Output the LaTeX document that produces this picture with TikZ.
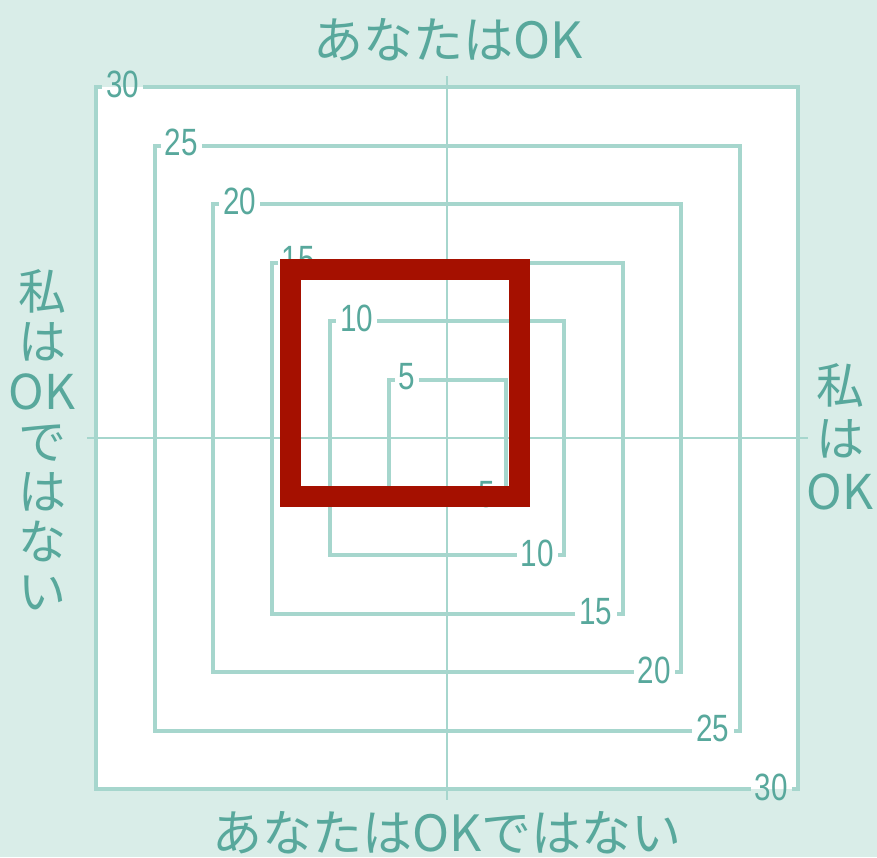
\documentclass[tikz,border=0pt]{standalone}
\usepackage{fontspec}
\newfontfamily\numfont[FakeStretch=0.78]{Liberation Sans}
\newfontfamily\jpfont{Noto Sans CJK JP}
\definecolor{bgc}{RGB}{217,237,232}
\definecolor{linec}{RGB}{166,214,205}
\definecolor{textc}{RGB}{88,168,156}
\definecolor{redc}{RGB}{165,16,0}
\begin{document}
\begin{tikzpicture}[x=1pt,y=-1pt,
  sq/.style={draw=linec,line width=4pt},
  axisline/.style={draw=linec,line width=2pt},
  lab/.style={text=textc,font=\numfont\fontsize{38}{38}\selectfont,inner xsep=4pt,inner ysep=0pt},
  jp/.style={text=textc,inner sep=0pt},
  redsq/.style={draw=redc,line width=21pt}]
\fill[bgc] (0,0) rectangle (877,857);
\useasboundingbox (0,0) rectangle (877,857);
\coordinate (C) at (447,438);
\fill[white] (96,87) rectangle (798,789);
% axes
\coordinate (axT) at (447,76);
\coordinate (axB) at (447,800);
\coordinate (axL) at (87,438);
\coordinate (axR) at (808,438);
\draw[axisline] (axT) -- (axB);
\draw[axisline] (axL) -- (axR);
% squares
\foreach \n in {5,10,15,20,25,30} {
  \pgfmathsetmacro\s{11.7*\n}
  \path (C) ++(-\s,-\s) coordinate (TL\n);
  \path (C) ++(\s,-\s) coordinate (TR\n);
  \path (C) ++(\s,\s) coordinate (BR\n);
  \path (C) ++(-\s,\s) coordinate (BL\n);
  \node[lab,anchor=west] (tl\n) at ([xshift=6pt,yshift=3pt]TL\n) {\n};
  \node[lab,anchor=east] (br\n) at ([xshift=-6pt,yshift=2pt]BR\n) {\n};
  \draw[sq] (tl\n.east |- TL\n) -- (TR\n) -- (BR\n) -- (br\n.east |- BR\n)
            (br\n.west |- BR\n) -- (BL\n) -- (TL\n) -- (tl\n.west |- TL\n);
}
% red square
\draw[redsq] (290.5,269.5) rectangle (519.5,496);
% texts
\node[jp,font=\jpfont\fontsize{50}{50}\selectfont] (top) at (448,40) {あなたはOK};
\node[jp,font=\jpfont\fontsize{50}{50}\selectfont] (bottom) at (447,833) {あなたはOKではない};
\node[jp,align=center,font=\jpfont\fontsize{48}{50}\selectfont] (left) at (42,440) {私\\は\\OK\\で\\は\\な\\い};
\node[jp,align=center,font=\jpfont\fontsize{48}{53}\selectfont] (right) at (840,437) {私\\は\\OK};
\end{tikzpicture}
\end{document}
